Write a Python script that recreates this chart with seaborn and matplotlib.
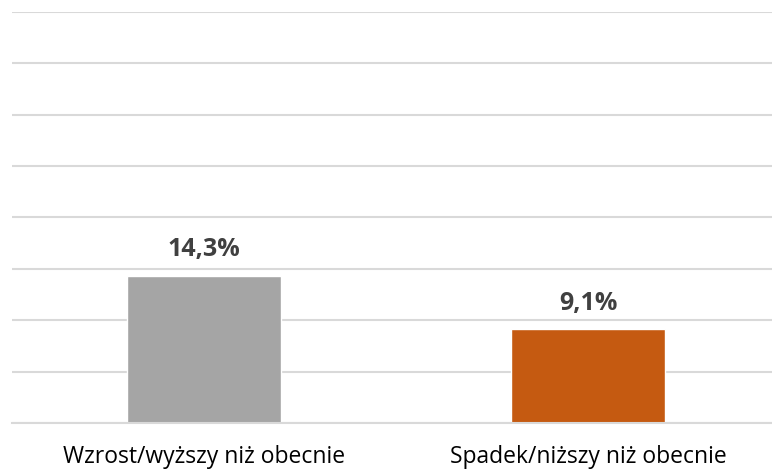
import numpy as np
import pandas as pd
import seaborn as sns
import matplotlib
matplotlib.use('Agg')
import matplotlib.pyplot as plt

# dane
kategorie = ['Wzrost/wyższy niż obecnie', 'Spadek/niższy niż obecnie']
wartosci = [14.3, 9.1]
kolory = ['#a5a5a5', '#c55a11']

df = pd.DataFrame({'kat': kategorie, 'val': wartosci})

sns.set_theme(style='white')
plt.rcParams['font.family'] = ['Open Sans', 'DejaVu Sans']

fig = plt.figure(figsize=(7.72, 4.69), dpi=100)
# os wychodzi lekko poza prawa krawedz, jak w oryginale
ax = fig.add_axes([12 / 772, 1 - 423 / 469, 768 / 772, 411 / 469])

sns.barplot(data=df, x='kat', y='val', hue='kat', palette=kolory,
            width=0.40, legend=False, ax=ax, saturation=1)

ax.set_ylim(0, 40)
ax.set_yticks(np.arange(0, 41, 5))
ax.yaxis.grid(True, color='#d9d9d9', linewidth=1.5)
ax.set_axisbelow(True)
ax.tick_params(axis='y', left=False, labelleft=False)
ax.tick_params(axis='x', bottom=False, labelsize=16.5, pad=10, colors='#000000')
ax.set_xlabel('')
ax.set_ylabel('')
for s in ['top', 'right', 'left']:
    ax.spines[s].set_visible(False)
ax.spines['bottom'].set_color('#d9d9d9')
ax.spines['bottom'].set_linewidth(1.5)

for i, v in enumerate(wartosci):
    ax.annotate(f'{v:.1f}%'.replace('.', ','), (i, v), xytext=(0, 10),
                textcoords='offset points', ha='center', va='bottom',
                fontsize=18, fontweight='bold', color='#404040')

fig.savefig('out.png', dpi=100)
